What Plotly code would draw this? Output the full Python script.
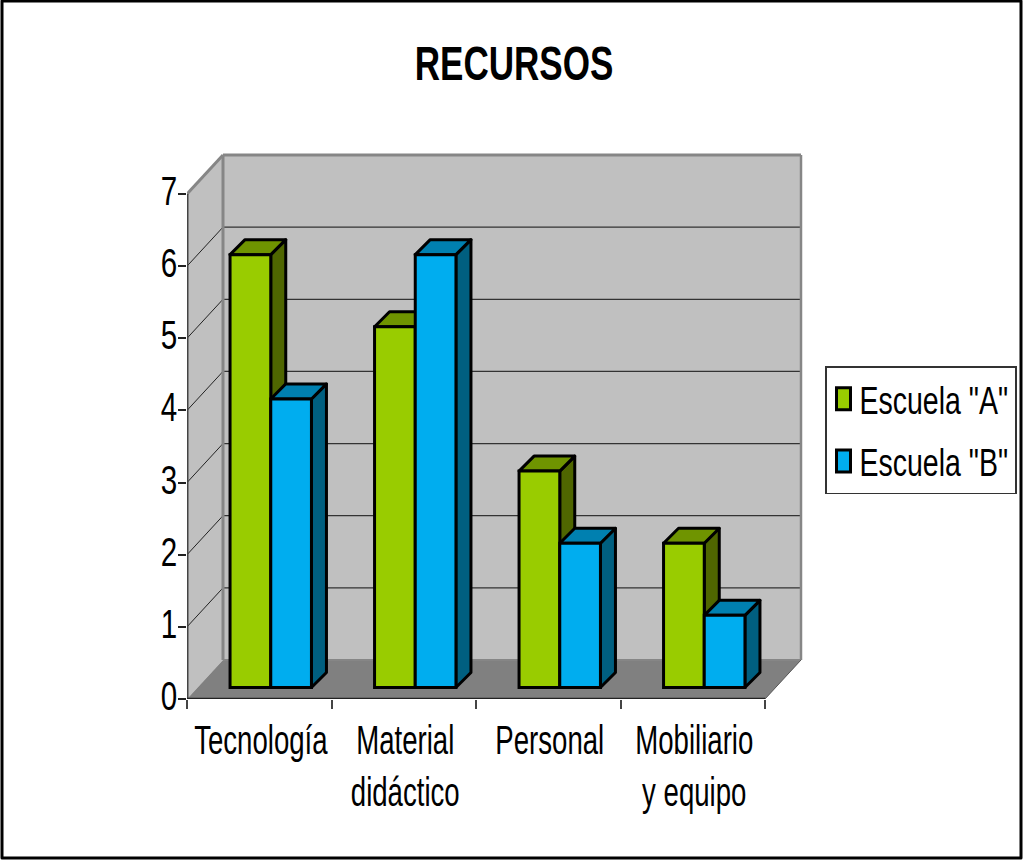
import plotly.graph_objects as go

categories = ["Tecnología", "Material<br>didáctico", "Personal", "Mobiliario<br>y equipo"]
escuela_a = [6, 5, 3, 2]
escuela_b = [4, 6, 2, 1]
y_ticks = [0, 1, 2, 3, 4, 5, 6, 7]

W, H = 1024, 861
FONT = "Liberation Sans, Arial"
COL_A = ("#99CC00", "#6F9400", "#4F6600")
COL_B = ("#00ADEF", "#0080B0", "#005F80")

# oblique geometry, in axis units
PX_X, PX_Y = 144.5, 72.1
WALL_DX, WALL_DY = 36 / PX_X, 39 / PX_Y
BAR_DX, BAR_DY = 15 / PX_X, 15 / PX_Y
BAR_W = 40.7 / PX_X
BAR_BASE = 11.5 / PX_Y
SHIFT = 11.5 / PX_X
PAD_X, PAD_Y = 2 / PX_X, 2 / PX_Y
X0, X1 = -0.5, len(categories) - 0.5
YMAX = max(y_ticks)


def poly(pts, fill, line="rgba(0,0,0,0)", width=0):
    path = "M" + " L".join(f"{x:.4f},{y:.4f}" for x, y in pts) + " Z"
    return dict(type="path", path=path, xref="x", yref="y", layer="below",
                fillcolor=fill, line=dict(color=line, width=width))


def seg(a, b, color, width):
    return dict(type="line", xref="x", yref="y", layer="below", x0=a[0], y0=a[1], x1=b[0], y1=b[1],
                line=dict(color=color, width=width))


shapes = [
    poly([(X0 + WALL_DX, WALL_DY), (X1 + WALL_DX, WALL_DY), (X1 + WALL_DX, YMAX + WALL_DY), (X0 + WALL_DX, YMAX + WALL_DY)], "#C0C0C0"),
    poly([(X0, 0), (X0 + WALL_DX, WALL_DY), (X0 + WALL_DX, YMAX + WALL_DY), (X0, YMAX)], "#C0C0C0"),
    poly([(X0, 0), (X1, 0), (X1 + WALL_DX, WALL_DY), (X0 + WALL_DX, WALL_DY)], "#808080"),
]
for v in y_ticks[1:-1]:
    shapes.append(seg((X0, v), (X0 + WALL_DX, v + WALL_DY), "#222222", 1))
    shapes.append(seg((X0 + WALL_DX, v + WALL_DY), (X1 + WALL_DX, v + WALL_DY), "#333333", 1.2))
shapes += [
    seg((X0 + WALL_DX, YMAX + WALL_DY), (X1 + WALL_DX, YMAX + WALL_DY), "#868686", 3),
    seg((X1 + WALL_DX, YMAX + WALL_DY), (X1 + WALL_DX, WALL_DY), "#868686", 2.5),
    seg((X0 + WALL_DX, YMAX + WALL_DY), (X0 + WALL_DX, WALL_DY), "#868686", 3),
    seg((X0, YMAX), (X0 + WALL_DX, YMAX + WALL_DY), "#868686", 3),
    seg((X0 + WALL_DX, WALL_DY), (X1 + WALL_DX, WALL_DY), "#868686", 2),
    seg((X0, 0), (X0, YMAX), "#444444", 3),
    seg((X1, 0), (X1 + WALL_DX, WALL_DY), "#555555", 1),
    seg((X0, 0), (X1, 0), "#222222", 2.5),
]

xs_a = [i + SHIFT - BAR_W / 2 for i in range(len(categories))]
xs_b = [i + SHIFT + BAR_W / 2 for i in range(len(categories))]
for xs, vals, cols in ((xs_a, escuela_a, COL_A), (xs_b, escuela_b, COL_B)):
    for x, v in zip(xs, vals):
        l, r = x - BAR_W / 2, x + BAR_W / 2
        b, t = BAR_BASE, BAR_BASE + v
        shapes.append(poly([(r, b), (r + BAR_DX, b + BAR_DY), (r + BAR_DX, t + BAR_DY), (r, t)], cols[2], "black", 3))
        shapes.append(poly([(l, t), (r, t), (r + BAR_DX, t + BAR_DY), (l + BAR_DX, t + BAR_DY)], cols[1], "black", 3))

shapes.append(dict(type="rect", xref="paper", yref="paper", layer="above",
                   x0=2 / W, x1=1021 / W, y0=1 - 858 / H, y1=1 - 1 / H,
                   line=dict(color="black", width=3), fillcolor="rgba(0,0,0,0)"))

fig = go.Figure()
for name, xs, vals, cols in (('Escuela "A"', xs_a, escuela_a, COL_A), ('Escuela "B"', xs_b, escuela_b, COL_B)):
    fig.add_trace(go.Bar(name=name, legendgroup=name, x=xs, y=vals, base=BAR_BASE, width=BAR_W,
                         marker=dict(color=cols[0], line=dict(color="black", width=3))))

fig.update_layout(
    width=W, height=H, barmode="overlay", shapes=shapes,
    margin=dict(l=0, r=0, t=0, b=0, autoexpand=False),
    paper_bgcolor="white", plot_bgcolor="white",
    font=dict(family=FONT, color="black", size=40),
    title=dict(text="<b>RECURSOS</b>", x=514 / W, xanchor="center", y=1 - 63 / H, yanchor="middle",
               font=dict(family=FONT, size=48, color="black")),
    xaxis=dict(domain=[187 / W, 803 / W], range=[X0, X1 + WALL_DX + PAD_X], showgrid=False, zeroline=False,
               showline=False, tickmode="array", tickvals=list(range(len(categories))), ticktext=categories,
               ticks="", tickangle=0, ticklabelstandoff=14,
               minor=dict(tickmode="array", tickvals=[i - 0.5 for i in range(len(categories) + 1)],
                          ticks="outside", ticklen=9, tickcolor="#444444", tickwidth=1.5)),
    yaxis=dict(domain=[1 - 699 / H, 1 - 153 / H], range=[0, YMAX + WALL_DY + PAD_Y], showgrid=False, zeroline=False,
               showline=False, tickmode="array", tickvals=y_ticks, ticks="outside", ticklen=8,
               tickcolor="#222222", tickwidth=1.5),
    legend=dict(x=825 / W, y=1 - 366 / H, xanchor="left", yanchor="top", bgcolor="white",
                bordercolor="#333333", borderwidth=1.5, traceorder="grouped", tracegroupgap=10,
                entrywidth=125, entrywidthmode="pixels",
                font=dict(family=FONT, size=38, color="black")),
    showlegend=True,
)

# The reference's text is horizontally condensed; no condensed face is installed,
# so the real text elements are narrowed in place.
post = """
document.body.style.margin='0';
function squeeze(sel, s, anchorLeft, dx, dy){
  document.querySelectorAll(sel).forEach(function(t){
    var b=t.getBBox(), c=anchorLeft?b.x:b.x+b.width/2;
    var old=t.getAttribute('transform')||'';
    t.setAttribute('transform', old+' translate('+(dx||0)+','+(dy||0)+') translate('+c+',0) scale('+s+',1) translate('+(-c)+',0)');
  });
}
squeeze('.xtick text', 0.69, false, 1.5, 0);
squeeze('.ytick text', 0.74, false, 10, -3);
squeeze('.legendtext', 0.75, true, -7, 0);
squeeze('.gtitle', 0.73, false, 0, 0);
document.querySelectorAll('.legend .legendpoints path').forEach(function(p){
  p.setAttribute('d','M4,11H-10V-11H4Z');
});
document.querySelectorAll('.legend rect.bg').forEach(function(r){
  r.setAttribute('width','190');
});
document.querySelectorAll('.shapelayer path').forEach(function(p){
  p.style.strokeLinejoin='round';
});
"""
fig.write_html("out.html", post_script=post, config=dict(displayModeBar=False))
